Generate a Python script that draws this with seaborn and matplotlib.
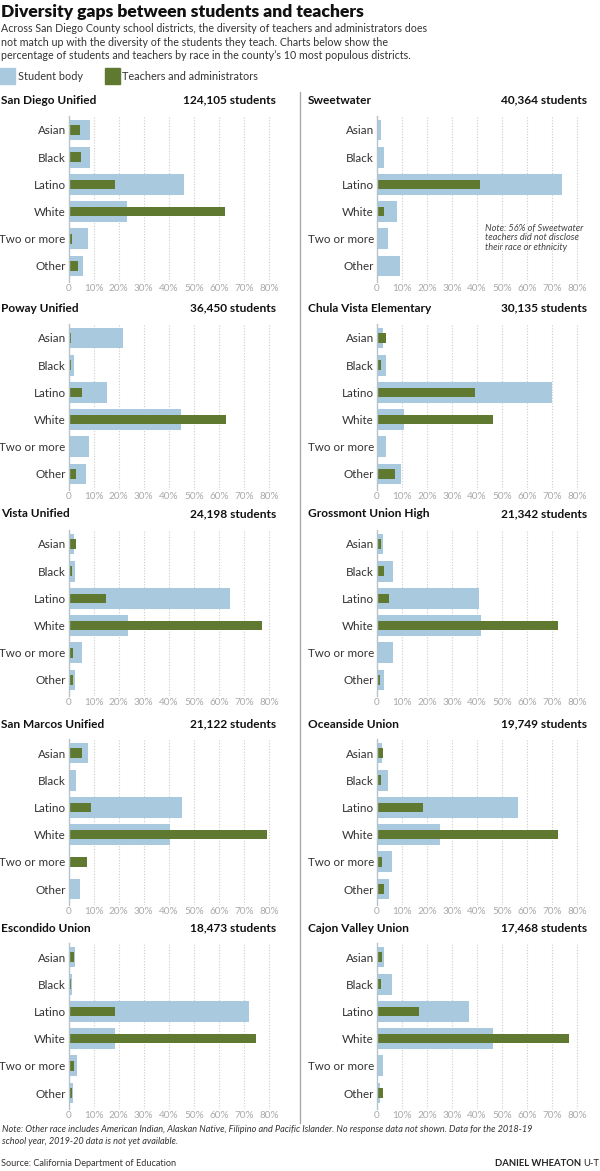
import numpy as np
import pandas as pd
import seaborn as sns
import matplotlib.pyplot as plt

# datos (porcentaje)
races = ['Asian', 'Black', 'Latino', 'White', 'Two or more', 'Other']
districts = ['San Diego Unified', 'Sweetwater', 'Poway Unified', 'Chula Vista Elementary',
             'Vista Unified', 'Grossmont Union High', 'San Marcos Unified', 'Oceanside Union',
             'Escondido Union', 'Cajon Valley Union']
enrollment = ['124,105', '40,364', '36,450', '30,135', '24,198', '21,342', '21,122',
              '19,749', '18,473', '17,468']
students = [
    [8.6, 8.4, 46.2, 23.2, 7.8, 5.6],
    [1.7, 2.8, 73.9, 8.0, 4.5, 9.2],
    [21.6, 2.0, 15.3, 44.8, 8.1, 6.9],
    [2.4, 3.7, 69.9, 10.9, 3.6, 9.7],
    [2.3, 2.4, 64.4, 23.8, 5.3, 2.7],
    [2.4, 6.3, 40.7, 41.4, 6.5, 2.9],
    [7.7, 3.1, 45.2, 40.5, 0.0, 4.5],
    [2.1, 4.5, 56.5, 25.4, 6.1, 4.9],
    [2.5, 1.5, 71.8, 18.7, 3.3, 1.9],
    [3.1, 6.1, 36.7, 46.3, 2.5, 1.5],
]
teachers = [
    [4.6, 4.9, 18.6, 62.5, 1.3, 3.7],
    [0.0, 0.3, 41.0, 2.8, 0.0, 0.3],
    [1.1, 0.9, 5.2, 62.9, 0.4, 2.8],
    [3.7, 1.9, 39.2, 46.3, 0.0, 7.2],
    [2.9, 1.5, 15.0, 77.2, 1.6, 1.6],
    [1.6, 2.9, 5.1, 72.1, 0.0, 1.5],
    [5.4, 0.0, 8.9, 79.3, 7.2, 0.0],
    [2.7, 1.9, 18.5, 72.2, 2.1, 2.9],
    [2.3, 0.9, 18.5, 74.9, 2.1, 1.2],
    [2.0, 1.6, 16.9, 76.8, 0.0, 2.4],
]
ticks = [0, 10, 20, 30, 40, 50, 60, 70, 80]
tick_labels = ['0', '10%', '20%', '30%', '40%', '50%', '60%', '70%', '80%']

blue = '#a9c9df'
green = '#5f7a30'
W, H = 600, 1171

sns.set_theme(style='white')
plt.rcParams['font.family'] = ['Lato', 'DejaVu Sans']

fig = plt.figure(figsize=(W / 100, H / 100), dpi=100)

def fx(px):
    return px / W

def fy(py):
    return 1 - py / H

# titulo y texto
fig.text(fx(1), fy(12), 'Diversity gaps between students and teachers', fontsize=12.6,
         fontweight='heavy', color='#111111', va='center', ha='left')
sub = ['Across San Diego County school districts, the diversity of teachers and administrators does',
       'not match up with the diversity of the students they teach. Charts below show the',
       "percentage of students and teachers by race in the county\u2019s 10 most populous districts."]
for i, s in enumerate(sub):
    fig.text(fx(1), fy(29 + i * 13.2), s, fontsize=7.7, color='#333333', va='center', ha='left')

# leyenda
fig.patches.append(plt.Rectangle((fx(0), fy(84)), fx(15), 16 / H, color=blue,
                                 transform=fig.transFigure, figure=fig))
fig.patches.append(plt.Rectangle((fx(105), fy(84)), fx(15), 16 / H, color=green,
                                 transform=fig.transFigure, figure=fig))
fig.text(fx(18), fy(76), 'Student body', fontsize=7.8, color='#333333', va='center')
fig.text(fx(122), fy(76), 'Teachers and administrators', fontsize=7.8, color='#333333', va='center')

# paneles
asian_y = [130, 338, 544, 753, 957]
head_y = [100, 308, 514, 724, 928]
step = 27.2
ppp = 2.509  # pixeles por punto porcentual
xmax = 86

for k, name in enumerate(districts):
    col = k % 2
    row = k // 2
    x0 = 68.5 if col == 0 else 376.7
    top = asian_y[row] - 0.5 * step
    h = 6.1 * step
    ax = fig.add_axes([fx(x0), fy(top + h), xmax * ppp / W, h / H])
    df = pd.DataFrame({'race': races, 'students': students[k], 'teachers': teachers[k]})
    sns.barplot(data=df, x='students', y='race', color=blue, width=0.76,
                saturation=1, orient='h', linewidth=0, ax=ax)
    sns.barplot(data=df, x='teachers', y='race', color=green, width=0.35,
                saturation=1, orient='h', linewidth=0, ax=ax)
    ax.set_xlim(0, xmax)
    ax.set_ylim(5.6, -0.5)
    ax.set_xlabel('')
    ax.set_ylabel('')
    ax.set_xticks(ticks)
    ax.set_xticklabels(tick_labels)
    ax.tick_params(axis='x', length=0, pad=1, labelsize=7.2, labelcolor='#aaaaaa')
    ax.tick_params(axis='y', length=0, pad=2, labelsize=8.4, labelcolor='#333333')
    for t in ticks[1:]:
        ax.axvline(t, color='#cccccc', lw=0.8, ls=(0, (1, 1.5)), zorder=0)
    for s in ['top', 'right', 'bottom']:
        ax.spines[s].set_visible(False)
    ax.spines['left'].set_color('#b5c3cc')
    ax.spines['left'].set_linewidth(1)
    ax.set_facecolor('none')

    hx = 1 if col == 0 else 308
    rx = 276 if col == 0 else 587
    fig.text(fx(hx), fy(head_y[row]), name, fontsize=8.6, fontweight='bold',
             color='#111111', va='center', ha='left')
    fig.text(fx(rx), fy(head_y[row]), enrollment[k] + ' students', fontsize=8.6,
             fontweight='bold', color='#111111', va='center', ha='right')

# nota de Sweetwater
note = ['Note: 56% of Sweetwater', 'teachers did not disclose', 'their race or ethnicity']
for i, s in enumerate(note):
    fig.text(fx(485), fy(228 + i * 9.6), s, fontsize=6.7, style='italic',
             color='#444444', va='center')

# linea divisoria
fig.add_artist(plt.Line2D([fx(300), fx(300)], [fy(92), fy(1123)], color='#aaaaaa',
                          lw=1, transform=fig.transFigure))

# pie
foot = ['Note: Other race includes American Indian, Alaskan Native, Filipino and Pacific Islander. No response data not shown. Data for the 2018-19',
        'school year, 2019-20 data is not yet available.']
for i, s in enumerate(foot):
    fig.text(fx(2), fy(1130 + i * 11.5), s, fontsize=6.6, style='italic',
             color='#333333', va='center')
fig.text(fx(1), fy(1163), 'Source: California Department of Education', fontsize=6.6,
         color='#333333', va='center')
fig.text(fx(581), fy(1163), 'DANIEL WHEATON', fontsize=6.8, fontweight='bold',
         color='#222222', va='center', ha='right')
fig.text(fx(583), fy(1163), 'U-T', fontsize=6.8, color='#222222', va='center', ha='left')

fig.savefig('out.png', dpi=100)
